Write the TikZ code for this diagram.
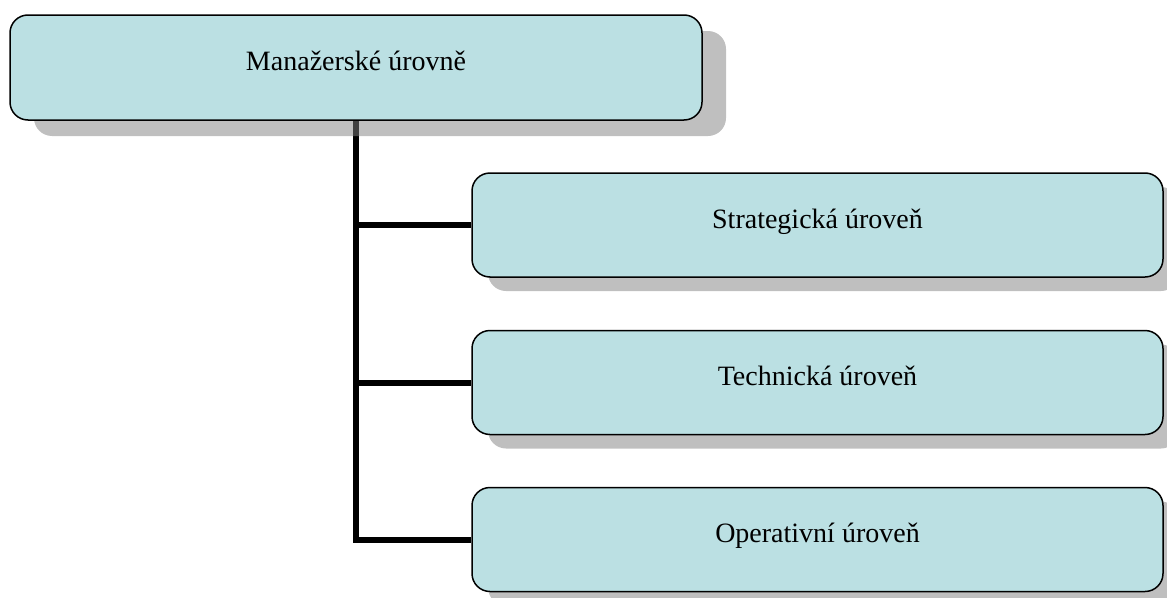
\documentclass[tikz,border=0pt]{standalone}
\usepackage{fontspec}
\setmainfont{Liberation Serif}
\usetikzlibrary{shadows,backgrounds}
\definecolor{boxfill}{HTML}{BBE0E3}
\definecolor{shadowc}{HTML}{808080}
\begin{document}
\begin{tikzpicture}[x=1pt,y=-1pt,
  orgbox/.style={draw=black, line width=1.5pt, fill=boxfill, rounded corners=18pt,
    inner sep=0pt, text height=16pt, text depth=10pt,
    font=\fontsize{28}{32}\selectfont},
  topbox/.style={orgbox, minimum width=692pt, minimum height=105pt,
    drop shadow={shadow xshift=24pt, shadow yshift=-16pt, fill=shadowc, opacity=0.5}},
  subbox/.style={orgbox, minimum width=691pt, minimum height=104pt,
    drop shadow={shadow xshift=16pt, shadow yshift=-14pt, fill=shadowc, opacity=0.5}},
  conn/.style={line width=6pt, line join=miter}]
\useasboundingbox (0,0) rectangle (1167,597);
\clip (0,0) rectangle (1167,597);
\node[topbox] (top) at (356,67.5) {Manažerské úrovně};
\node[subbox] (b1) at (817.5,225) {Strategická úroveň};
\node[subbox] (b2) at (817.5,382.5) {Technická úroveň};
\node[subbox] (b3) at (817.5,539.5) {Operativní úroveň};
\coordinate (j1) at (356,225);
\coordinate (j2) at (356,382.5);
\coordinate (j3) at (356,539.5);
\begin{scope}[on background layer]
\draw[conn] (top.south) -- (j3) -- (b3.west);
\draw[conn] (j1) -- (b1.west);
\draw[conn] (j2) -- (b2.west);
\end{scope}
\end{tikzpicture}
\end{document}
